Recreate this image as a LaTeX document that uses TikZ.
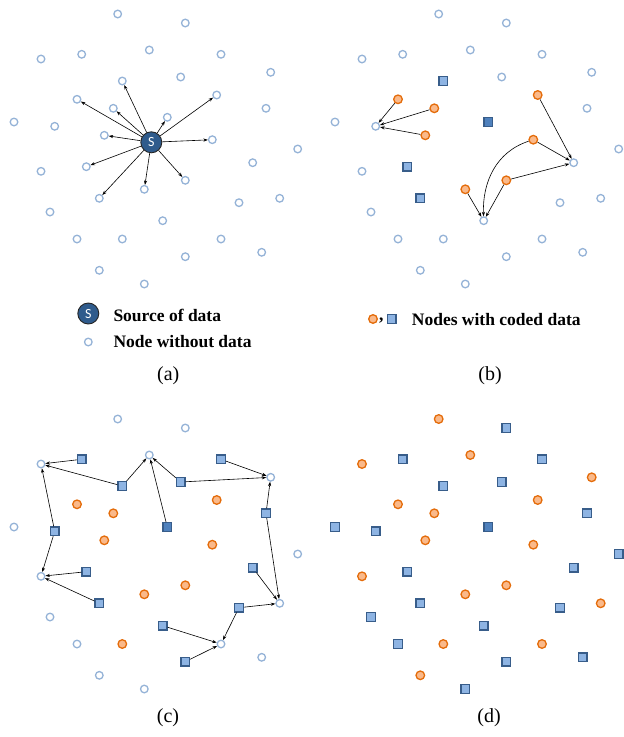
\documentclass[tikz,border=0pt]{standalone}
\usepackage{fontspec}
\setmainfont{Liberation Serif}
\newfontfamily\srcfont{Carlito}
\usetikzlibrary{arrows.meta}
\definecolor{emptyblue}{HTML}{95B3D7}
\definecolor{codeorange}{HTML}{E46C0A}
\definecolor{codeorangefill}{HTML}{FAB98A}
\definecolor{squareedge}{HTML}{385D8A}
\definecolor{squarefill}{HTML}{8EB4E3}
\definecolor{darkfill}{HTML}{4F81BD}
\definecolor{sourcefill}{HTML}{2F5B8C}
\tikzset{
  emptynode/.style={circle,draw=emptyblue,fill=white,line width=1.3pt,minimum size=7.6pt,inner sep=0pt},
  orangenode/.style={circle,draw=codeorange,fill=codeorangefill,line width=1.3pt,minimum size=8.6pt,inner sep=0pt},
  squarenode/.style={rectangle,draw=squareedge,fill=squarefill,line width=1.2pt,minimum size=8.6pt,inner sep=0pt},
  darksquare/.style={squarenode,fill=darkfill},
  sourcenode/.style={circle,draw=black!85,fill=sourcefill,line width=0.9pt,minimum size=21pt,inner sep=0pt,
    text=white,font=\srcfont\fontsize{14}{14}\selectfont},
  link/.style={-{Stealth[length=4.5pt,width=3.2pt]},line width=0.6pt},
  legend/.style={anchor=west,inner sep=0pt,font=\fontsize{17.5}{20}\selectfont\bfseries},
  caption/.style={font=\fontsize{20}{22}\selectfont}
}
\begin{document}
\begin{tikzpicture}[x=1pt,y=-1pt]
\useasboundingbox (0,0) rectangle (624,737);
% node field, in the frame of panel (a)
\foreach \x/\y [count=\i] in {117.7/14,185.3/23,41/59,81.7/54.3,149.3/50,221/54.3,270.7/72.3,
    122.3/81,180.7/77,77/99.3,216.7/95,113.3/108.3,167.3/117.3,266/108.3,14/122,54.7/126.3,
    104.3/135.3,151.3/142.3,212.3/139.7,297.7/149,41/171.3,86.3/166.7,252.7/162.7,185.3/180.3,
    144.3/189.3,99.3/198.3,50/212,239/202.7,279.7/198.3,162.7/220.7,77/239,122.3/239,221/239,
    261.7/252.3,185.3/256.7,99.3/270.3,144.3/284}
  \coordinate (p\i) at (\x,\y);
\coordinate (pd) at (167.3,122);

% (a)
\foreach \i in {1,...,17,19,20,...,37}
  \node[emptynode] (a\i) at (p\i) {};
\node[sourcenode] (S) at (p18) {S};
\foreach \t in {10,8,12,13,11,17,19,22,26,25,24}
  \draw[link] (S) -- (a\t);

% (b)
\foreach \i in {1,2,3,4,5,6,7,9,14,15,16,20,21,23,27,28,29,30,31,32,33,34,35,36,37}
  \node[emptynode] (b\i) at ([xshift=321pt]p\i) {};
\foreach \i in {10,11,12,17,19,24,25}
  \node[orangenode] (b\i) at ([xshift=321pt]p\i) {};
\foreach \i in {8,22,26}
  \node[squarenode] (b\i) at ([xshift=321pt]p\i) {};
\node[darksquare] (bd) at ([xshift=321pt]pd) {};
\foreach \s/\t in {10/16,12/16,17/16,11/23,19/23,24/23,25/30,24/30}
  \draw[link] (b\s) -- (b\t);
\draw[link] (b19) to[out=198,in=92] (b30);

% (c)
\foreach \i in {1,2,3,5,7,15,20,21,27,29,31,33,34,36,37}
  \node[emptynode] (c\i) at ([yshift=-405pt]p\i) {};
\foreach \i in {10,11,12,17,19,24,25,32}
  \node[orangenode] (c\i) at ([yshift=-405pt]p\i) {};
\foreach \i in {4,6,8,9,14,16,22,23,26,28,30,35}
  \node[squarenode] (c\i) at ([yshift=-405pt]p\i) {};
\node[darksquare] (cd) at ([yshift=-405pt]pd) {};
\foreach \s/\t in {4/3,8/3,16/3,16/21,22/21,26/21,8/5,9/5,6/7,9/7,14/7,14/29,23/29,28/29,28/33,30/33,35/33}
  \draw[link] (c\s) -- (c\t);
\draw[link] (cd) -- (c5);

% (d)
\foreach \i in {1,3,5,7,10,11,12,17,19,21,24,25,29,32,33,36}
  \node[orangenode] (d\i) at ([xshift=321pt,yshift=-405pt]p\i) {};
\foreach \i in {2,4,6,8,9,14,15,16,20,22,23,26,27,28,30,31,34,35,37}
  \node[squarenode] (d\i) at ([xshift=321pt,yshift=-405pt]p\i) {};
\node[darksquare] (dd) at ([xshift=321pt,yshift=-405pt]pd) {};

% legends and captions
\node[sourcenode] (keyS) at (88.3,313.5) {S};
\node[emptynode] (keyE) at (88.3,342) {};
\node[legend] (keySt) at (113.3,315) {Source of data};
\node[legend] (keyEt) at (113.3,342) {Node without data};
\node[orangenode] (keyO) at (373,319) {};
\node[legend] (keyC) at (379,321) {,};
\node[squarenode] (keyQ) at (391.7,319) {};
\node[legend] (keyQt) at (411.7,320) {Nodes with coded data};
\node[caption] (capa) at (168.3,376) {(a)};
\node[caption] (capb) at (490,376) {(b)};
\node[caption] (capc) at (168,718) {(c)};
\node[caption] (capd) at (489,718) {(d)};
\end{tikzpicture}
\end{document}
